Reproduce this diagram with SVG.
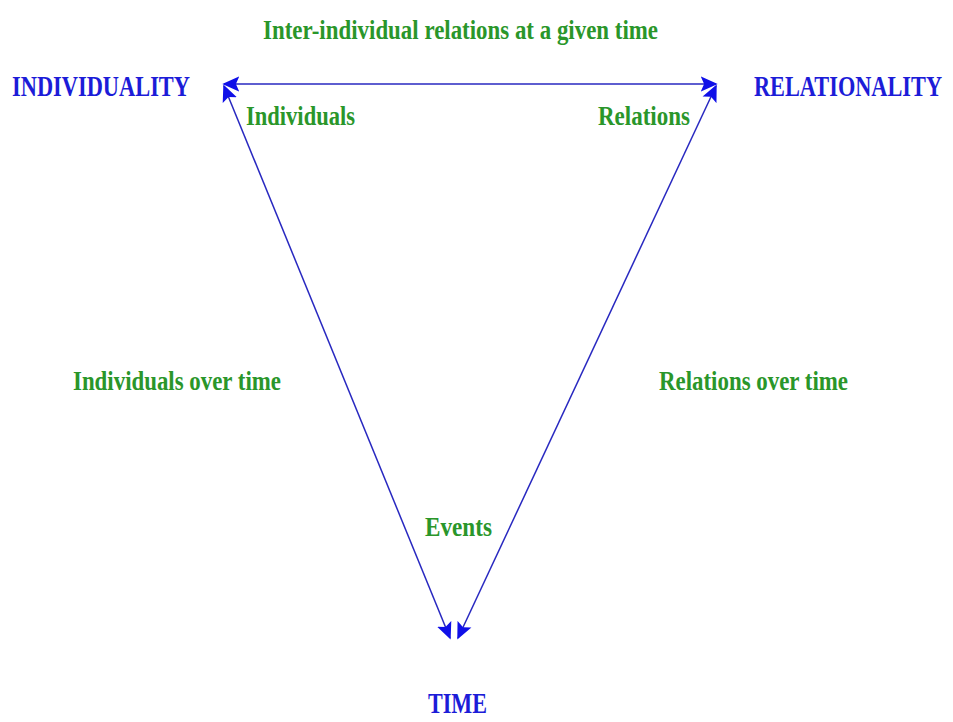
<svg xmlns="http://www.w3.org/2000/svg" width="953" height="722" viewBox="0 0 953 722">
<style>
.b{font-family:"Liberation Serif",serif;font-weight:bold;fill:#1c1cd8;font-size:25px}
.g{font-family:"Liberation Serif",serif;font-weight:bold;fill:#2a962a;font-size:28px}
.c{stroke:#2828c0;stroke-width:1.5;fill:none}
</style>
<defs>
<marker id="ah2" viewBox="0 0 10 10" refX="9" refY="5" markerWidth="17" markerHeight="17" markerUnits="userSpaceOnUse" orient="auto-start-reverse">
<path d="M0,0.5 L10,5 L0,9.5 L2,5 Z" fill="#1010e8"/>
</marker>
</defs>
<rect width="953" height="722" fill="#fff"/>
<g id="connectors">
<line class="c" x1="224" y1="84" x2="716" y2="84" marker-start="url(#ah2)" marker-end="url(#ah2)"/>
<line class="c" x1="224" y1="86" x2="450" y2="638" marker-start="url(#ah2)" marker-end="url(#ah2)"/>
<line class="c" x1="716" y1="86" x2="458" y2="638" marker-start="url(#ah2)" marker-end="url(#ah2)"/>
</g>
<g id="individuality"><text class="b" transform="translate(12,96) scale(1,1.16)" x="0" y="0" textLength="178" lengthAdjust="spacingAndGlyphs">INDIVIDUALITY</text></g>
<g id="relationality"><text class="b" style="font-size:22px" transform="translate(754,96) scale(1,1.32)" x="0" y="0" textLength="188" lengthAdjust="spacingAndGlyphs">RELATIONALITY</text></g>
<g id="time"><text class="b" transform="translate(428,713) scale(1,1.16)" x="0" y="0" textLength="59" lengthAdjust="spacingAndGlyphs">TIME</text></g>
<g id="labels">
<text class="g" x="263" y="39" textLength="395" lengthAdjust="spacingAndGlyphs">Inter-individual relations at a given time</text>
<text class="g" x="246" y="125" textLength="109" lengthAdjust="spacingAndGlyphs">Individuals</text>
<text class="g" x="598" y="125" textLength="92" lengthAdjust="spacingAndGlyphs">Relations</text>
<text class="g" x="73" y="390" textLength="208" lengthAdjust="spacingAndGlyphs">Individuals over time</text>
<text class="g" x="659" y="390" textLength="189" lengthAdjust="spacingAndGlyphs">Relations over time</text>
<text class="g" x="425" y="536" textLength="67" lengthAdjust="spacingAndGlyphs">Events</text>
</g>
</svg>
